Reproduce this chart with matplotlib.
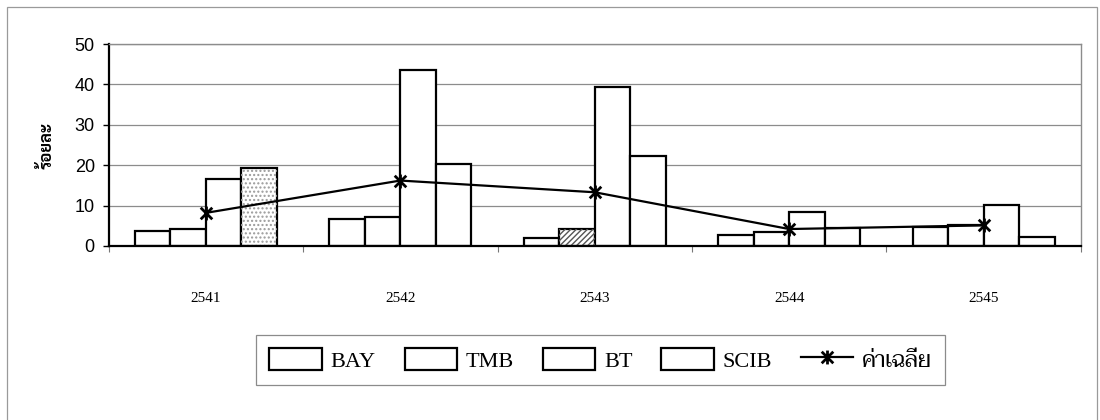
import numpy as np
import matplotlib
matplotlib.use('Agg')
import matplotlib.pyplot as plt
from matplotlib.patches import Patch, Rectangle
from matplotlib.lines import Line2D
from matplotlib.path import Path

# Return (%) by bank and year
years = ['2541', '2542', '2543', '2544', '2545']
bay = [3.7, 6.6, 2.1, 2.8, 4.6]
tmb = [4.1, 7.1, 4.1, 3.4, 5.2]
bt = [16.6, 43.5, 39.3, 8.4, 10.2]
scib = [19.2, 20.4, 22.4, 4.4, 2.2]
avg = [8.2, 16.2, 13.3, 4.2, 5.1]
banks = ['BAY', 'TMB', 'BT', 'SCIB']
avg_label = 'ค่าเฉลี่ย'
y_label = 'ร้อยละ'

serif = ['Liberation Serif', 'Taviraj']
thai_bold = ['Sarabun', 'DejaVu Sans']

# star marker: an X with a vertical stroke through it
star = Path([(-1, -1), (1, 1), (-1, 1), (1, -1), (0, -1.2), (0, 1.2)],
            [Path.MOVETO, Path.LINETO] * 3)

fig = plt.figure(figsize=(11, 4.2), dpi=100)
ax = fig.add_axes([0.0988, 0.4143, 0.8837, 0.4809])

x = np.arange(len(years))
w = 0.1825
series = [bay, tmb, bt, scib]
offsets = [-1.5 * w, -0.5 * w, 0.5 * w, 1.5 * w]
for vals, off in zip(series, offsets):
    ax.bar(x + off, vals, w, color='white', edgecolor='black',
           linewidth=1.6, zorder=3)

# stippled / hatched fills that show on a few bars
ax.bar(x[0] + offsets[3], scib[0], w, fill=False, hatch='....',
       edgecolor='#9a9a9a', linewidth=0, zorder=3.5)
ax.bar(x[2] + offsets[1], tmb[2], w, fill=False, hatch='//////',
       edgecolor='#555555', linewidth=0, zorder=3.5)

ax.plot(x, avg, color='black', linewidth=1.6, marker=star,
        markersize=10, markeredgewidth=2, zorder=5)

ax.set_xlim(-0.5, len(years) - 0.5)
ax.set_ylim(0, 50)
ax.set_yticks(np.arange(0, 51, 10))
ax.yaxis.grid(True, color='#8c8c8c', linewidth=0.9)
ax.set_axisbelow(True)

ax.set_xticks(x)
ax.set_xticklabels(years, family=serif, fontsize=11)
ax.set_xticks(np.arange(-0.5, len(years), 1.0), minor=True)
ax.tick_params(axis='x', which='major', length=0, pad=33)
ax.tick_params(axis='x', which='minor', length=4, width=0.8,
               color='#777777', direction='out')
ax.tick_params(axis='y', length=4, width=1.0, direction='out', pad=6)
for lab in ax.get_yticklabels():
    lab.set_family('Liberation Sans')
    lab.set_fontsize(13)

for side in ['top', 'right']:
    ax.spines[side].set_color('#8c8c8c')
    ax.spines[side].set_linewidth(1.0)
for side in ['left', 'bottom']:
    ax.spines[side].set_color('black')
    ax.spines[side].set_linewidth(1.6)
ax.spines['bottom'].set_zorder(6)

ax.set_ylabel(y_label, family=thai_bold, fontweight='bold', fontsize=12,
              labelpad=14)

handles = [Patch(facecolor='white', edgecolor='black', linewidth=1.6)
           for _ in banks]
handles.append(Line2D([], [], color='black', linewidth=1.6, marker=star,
                      markersize=10, markeredgewidth=2))
leg = fig.legend(handles, banks + [avg_label], loc='center',
                 bbox_to_anchor=(0.546, 0.143), ncol=5,
                 prop={'family': serif, 'size': 16},
                 handlelength=2.35, handleheight=1.1, handletextpad=0.4,
                 columnspacing=1.3, borderpad=0.6, fancybox=False)
leg.get_frame().set_edgecolor('#6e6e6e')
leg.get_frame().set_linewidth(0.9)

# outer chart frame
fig.patches.append(Rectangle((7 / 1100, -0.05), 1090 / 1100, 1.05 - 7 / 420,
                             transform=fig.transFigure, fill=False,
                             edgecolor='#9a9a9a', linewidth=0.9))

fig.savefig('out.png')
